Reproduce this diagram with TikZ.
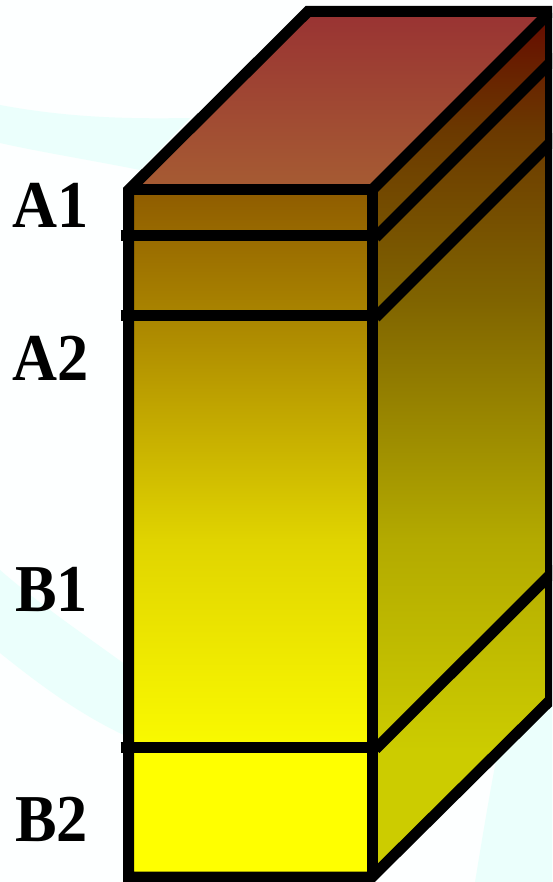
\documentclass[tikz,border=0pt]{standalone}
\usepackage{fontspec}
\usepackage{graphicx}
\setmainfont{Liberation Serif}
\definecolor{swoosh}{HTML}{EBFFFC}
\definecolor{paper}{HTML}{FDFFFF}
\definecolor{topA}{HTML}{993333}
\definecolor{topB}{HTML}{A65C33}
\pgfdeclareverticalshading{frontshade}{100bp}{
 color(0bp)=(yellow); color(25bp)=(yellow); color(34.2bp)=(yellow);
 color(34.3bp)=(rgb,255:red,250;green,250;blue,0);
 color(49.5bp)=(rgb,255:red,224;green,212;blue,0);
 color(65.8bp)=(rgb,255:red,170;green,133;blue,0);
 color(75bp)=(rgb,255:red,143;green,92;blue,0);
 color(100bp)=(rgb,255:red,143;green,92;blue,0)}
\pgfdeclareverticalshading{sideshade}{100bp}{
 color(0bp)=(rgb,255:red,204;green,204;blue,0); color(32.3bp)=(rgb,255:red,204;green,204;blue,0);
 color(44.5bp)=(rgb,255:red,179;green,170;blue,0);
 color(58.3bp)=(rgb,255:red,128;green,100;blue,0);
 color(68.1bp)=(rgb,255:red,107;green,57;blue,0);
 color(74.2bp)=(rgb,255:red,102;green,15;blue,0);
 color(100bp)=(rgb,255:red,102;green,15;blue,0)}
\newcommand{\lablt}[1]{\scalebox{.93}[1]{#1}}
\tikzset{x=1pt,y=-1pt,
 edge/.style={line width=11pt,line join=miter,line cap=butt},
 lab/.style={anchor=base west,inner sep=0pt,font=\fontsize{67}{67}\selectfont\bfseries}}
\begin{document}
\begin{tikzpicture}
\useasboundingbox (0,0) rectangle (552,882);
\clip (0,0) rectangle (552,882);
\fill[paper] (0,0) rectangle (552,882);
% background swooshes
\fill[swoosh] (0,105) .. controls (70,118) and (130,119) .. (190,118) -- (140,170) .. controls (90,160) and (40,152) .. (0,143) -- cycle;
\fill[swoosh] (0,570) .. controls (40,605) and (85,635) .. (130,668) -- (130,738) .. controls (80,715) and (40,685) .. (0,653) -- cycle;
\fill[swoosh] (500,740) -- (552,690) -- (552,882) -- (475,882) .. controls (482,840) and (490,790) .. (500,740) -- cycle;
% corner coordinates
\coordinate (ftl) at (128.7,190);
\coordinate (ftr) at (372,190);
\coordinate (fbl) at (128.7,877);
\coordinate (fbr) at (372,877);
\coordinate (btl) at (308,11.5);
\coordinate (btr) at (550.5,11.5);
\coordinate (bbr) at (550.5,700);
% faces
\shade[shading=frontshade] (ftl) rectangle (fbr);
\begin{scope}
\clip (ftr) -- (btr) -- (bbr) -- (fbr) -- cycle;
\shade[shading=sideshade] (372,11) rectangle (552,877);
\end{scope}
\shade[top color=topA,bottom color=topB] (ftl) -- (btl) -- (btr) -- (ftr) -- cycle;
% dividers
\coordinate (a1l) at (120.5,235.7);
\coordinate (a1r) at (377.5,235.7);
\coordinate (a1b) at (556,57);
\coordinate (a2l) at (120.5,315.7);
\coordinate (a2r) at (377.5,315.7);
\coordinate (a2b) at (556,137);
\coordinate (b1l) at (120.5,747.3);
\coordinate (b1r) at (377.5,747.3);
\coordinate (b1b) at (556,569);
\draw[edge] (a1l) -- (a1r);
\draw[edge] (a2l) -- (a2r);
\draw[edge] (b1l) -- (b1r);
\draw[edge] (375.5,237.5) -- (a1b);
\draw[edge] (375.5,317.5) -- (a2b);
\draw[edge] (375.5,749) -- (b1b);
% outlines
\draw[edge] (ftl) -- (btl) -- (btr) -- (bbr) -- (fbr) -- (fbl) -- cycle;
\draw[edge] (ftl) -- (ftr) -- (fbr);
\draw[edge] (ftr) -- (btr);
% labels
\node[lab] (A1) at (12,227.7) {\lablt{A1}};
\node[lab] (A2) at (12,380) {\lablt{A2}};
\node[lab] (B1) at (15,611) {\lablt{B1}};
\node[lab] (B2) at (15,841.7) {\lablt{B2}};
\end{tikzpicture}
\end{document}
